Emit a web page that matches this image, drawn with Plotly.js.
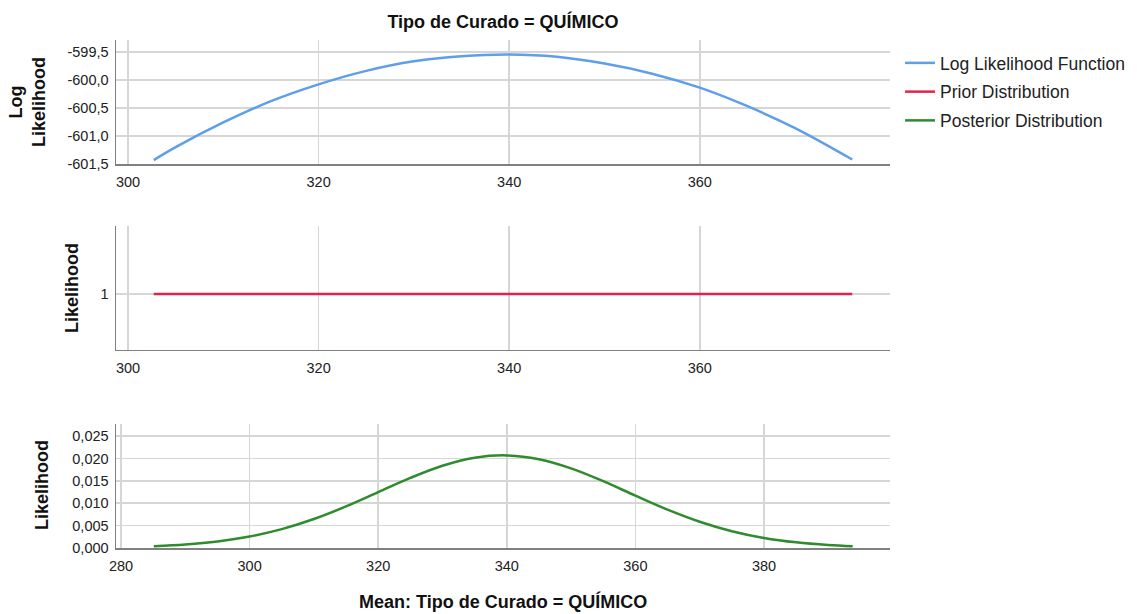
<!DOCTYPE html>
<html>
<head>
<meta charset="utf-8">
<script src="https://cdn.plot.ly/plotly-3.0.1.min.js"></script>
<style>
  html, body { margin: 0; padding: 0; background: #fff; }
  #chart { width: 1137px; height: 614px; }
</style>
</head>
<body>
<div id="chart"></div>
<script>
// Log likelihood of the mean
const llMean = [302.7, 305, 310, 315, 320, 325, 330, 335, 340, 345, 350, 355, 360, 365, 370, 376.0];
const llValue = [-601.43, -601.20, -600.76, -600.38, -600.08, -599.84, -599.67, -599.58, -599.55,
                 -599.59, -599.71, -599.89, -600.14, -600.47, -600.86, -601.42];

// Flat prior over the same span
const priorMean = [302.7, 376.0];
const priorValue = [1, 1];

// Posterior density of the mean
const postMean = [285.1, 290, 295, 300, 305, 310, 315, 320, 325, 330, 335, 340, 345, 350,
                  355, 360, 365, 370, 375, 380, 385, 390, 393.8];
const postValue = [0.00039, 0.00078, 0.00146, 0.00256, 0.00421, 0.00647, 0.00929, 0.01247,
                   0.01566, 0.01838, 0.02017, 0.02069, 0.01984, 0.01779, 0.01492, 0.01169,
                   0.00857, 0.00587, 0.00376, 0.00225, 0.00126, 0.00066, 0.00039];

const seriesNames = ['Log Likelihood Function', 'Prior Distribution', 'Posterior Distribution'];
const seriesColors = ['#5f9ee9', '#e0244c', '#2e8b2e'];

const xTicksTop = [300, 320, 340, 360];
const xTicksBottom = [280, 300, 320, 340, 360, 380];
const yTicksLL = [-601.5, -601.0, -600.5, -600.0, -599.5];
const yTicksPrior = [1];
const yTicksPost = [0, 0.005, 0.010, 0.015, 0.020, 0.025];

const titleText = 'Tipo de Curado = QUÍMICO';
const xTitleText = 'Mean: Tipo de Curado = QUÍMICO';

const gridColor = '#d6d6d6';
const lineColor = '#808080';
const tickFont = { family: 'Liberation Sans, Arial, sans-serif', size: 14.5, color: '#222' };
const boldFont = { family: 'Liberation Sans, Arial, sans-serif', size: 18, color: '#111', weight: 'bold' };

// Decimal comma and plain hyphen for negatives
function fmtTick(v, digits) {
  return v.toFixed(digits).replace('.', ',');
}

function xAxis(domainAnchor, range, ticks) {
  return {
    anchor: domainAnchor, range: range, tickvals: ticks, ticktext: ticks.map(String),
    showgrid: true, gridcolor: gridColor, gridwidth: 1.5,
    showline: true, linecolor: lineColor, linewidth: 1.5,
    zeroline: false, ticks: 'outside', ticklen: 4, tickcolor: 'rgba(0,0,0,0)',
    tickfont: tickFont, fixedrange: true, automargin: false
  };
}
function yAxis(domainAnchor, domain, range, ticks, digits) {
  return {
    anchor: domainAnchor, domain: domain, range: range, tickvals: ticks,
    ticktext: ticks.map(v => fmtTick(v, digits)),
    showgrid: true, gridcolor: gridColor, gridwidth: 1.5,
    showline: true, linecolor: lineColor, linewidth: 1.5,
    zeroline: false, ticks: 'outside', ticklen: 3, tickcolor: 'rgba(0,0,0,0)',
    tickfont: tickFont, fixedrange: true, automargin: false
  };
}

const traces = [
  { x: llMean, y: llValue, xaxis: 'x', yaxis: 'y', name: seriesNames[0], legendgroup: 'a',
    mode: 'lines', line: { color: seriesColors[0], width: 2.5, shape: 'spline' } },
  { x: priorMean, y: priorValue, xaxis: 'x2', yaxis: 'y2', name: seriesNames[1], legendgroup: 'b',
    mode: 'lines', line: { color: seriesColors[1], width: 2.5 } },
  { x: postMean, y: postValue, xaxis: 'x3', yaxis: 'y3', name: seriesNames[2], legendgroup: 'c',
    mode: 'lines', line: { color: seriesColors[2], width: 2.5, shape: 'spline' } }
];

const layout = {
  width: 1137, height: 614,
  margin: { l: 116, r: 247, t: 40, b: 66, autoexpand: false },
  paper_bgcolor: '#fff', plot_bgcolor: '#fff',
  showlegend: true,
  legend: {
    xref: 'container', yref: 'container',
    x: 0.7916, xanchor: 'left', y: 0.9267, yanchor: 'top',
    font: { family: 'Liberation Sans, Arial, sans-serif', size: 17.5, color: '#222' },
    tracegroupgap: 3, bgcolor: 'rgba(0,0,0,0)'
  },
  title: {
    text: titleText, x: 0.5, xref: 'paper', xanchor: 'center',
    y: 1 - 22 / 614, yref: 'container', yanchor: 'middle', font: boldFont
  },
  xaxis: xAxis('y', [298.74, 379.96], xTicksTop),
  yaxis: yAxis('x', [0.7559, 1], [-601.5, -599.29], yTicksLL, 1),
  xaxis2: xAxis('y2', [298.74, 379.96], xTicksTop),
  yaxis2: yAxis('x2', [0.3898, 0.6339], [0.45, 1.667], yTicksPrior, 0),
  xaxis3: xAxis('y3', [279.22, 399.6], xTicksBottom),
  yaxis3: yAxis('x3', [0, 0.2441], [0, 0.0277], yTicksPost, 3),
  annotations: [
    { text: 'Log<br>Likelihood', xref: 'paper', yref: 'paper', x: -0.1137, y: 0.878,
      textangle: -90, showarrow: false, font: boldFont, xanchor: 'center', yanchor: 'middle' },
    { text: 'Likelihood', xref: 'paper', yref: 'paper', x: -0.0568, y: 0.5118,
      textangle: -90, showarrow: false, font: boldFont, xanchor: 'center', yanchor: 'middle' },
    { text: 'Likelihood', xref: 'paper', yref: 'paper', x: -0.0956, y: 0.124,
      textangle: -90, showarrow: false, font: boldFont, xanchor: 'center', yanchor: 'middle' },
    { text: xTitleText, xref: 'paper', yref: 'paper', x: 0.5, y: -0.106,
      showarrow: false, font: boldFont, xanchor: 'center', yanchor: 'middle' }
  ]
};

Plotly.newPlot('chart', traces, layout, { displayModeBar: false, staticPlot: true });
</script>
</body>
</html>
